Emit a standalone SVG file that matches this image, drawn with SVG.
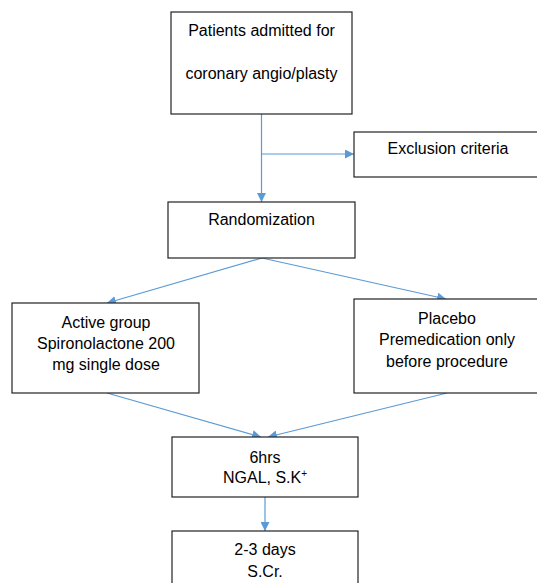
<svg xmlns="http://www.w3.org/2000/svg" width="537" height="583" viewBox="0 0 537 583">
<style>
.box{fill:#fff;stroke:#222;stroke-width:1.2}
.t{font-family:"Liberation Sans",Arial,sans-serif;font-size:16px;fill:#000;text-anchor:middle}
.c{stroke:#5B9BD5;stroke-width:1.2;fill:none}
</style>
<defs>
<marker id="ah" viewBox="0 0 10 10" refX="10" refY="5" markerWidth="9" markerHeight="9" markerUnits="userSpaceOnUse" orient="auto">
<path d="M0,0 L10,5 L0,10 z" fill="#5B9BD5"/>
</marker>
</defs>
<rect width="537" height="583" fill="#fff"/>
<g id="connectors">
<line class="c" x1="261.5" y1="114" x2="261.5" y2="202" marker-end="url(#ah)"/>
<line class="c" x1="261.5" y1="154" x2="354" y2="154" marker-end="url(#ah)"/>
<line class="c" x1="262" y1="258" x2="107" y2="303" marker-end="url(#ah)"/>
<line class="c" x1="262" y1="258" x2="446" y2="299" marker-end="url(#ah)"/>
<line class="c" x1="107" y1="393" x2="261" y2="437" marker-end="url(#ah)"/>
<line class="c" x1="447" y1="393" x2="268" y2="437" marker-end="url(#ah)"/>
<line class="c" x1="265" y1="497" x2="265" y2="531" marker-end="url(#ah)"/>
</g>
<g id="patients">
<rect class="box" x="171" y="12" width="181" height="102"/>
<text class="t" x="261.5" y="36">Patients admitted for</text>
<text class="t" x="261.5" y="79">coronary angio/plasty</text>
</g>
<g id="exclusion">
<rect class="box" x="354" y="132" width="190" height="45"/>
<text class="t" x="448" y="154">Exclusion criteria</text>
</g>
<g id="randomization">
<rect class="box" x="168" y="202" width="187" height="56"/>
<text class="t" x="261.5" y="225">Randomization</text>
</g>
<g id="active">
<rect class="box" x="12" y="303" width="187" height="90"/>
<text class="t" x="106" y="328">Active group</text>
<text class="t" x="106" y="349">Spironolactone 200</text>
<text class="t" x="106" y="370">mg single dose</text>
</g>
<g id="placebo">
<rect class="box" x="354" y="299" width="190" height="94"/>
<text class="t" x="447" y="324">Placebo</text>
<text class="t" x="447" y="345">Premedication only</text>
<text class="t" x="447" y="367">before procedure</text>
</g>
<g id="sixhrs">
<rect class="box" x="172" y="437" width="186" height="60"/>
<text class="t" x="265" y="463">6hrs</text>
<text class="t" x="265" y="483">NGAL, S.K<tspan font-size="10" dy="-6">+</tspan></text>
</g>
<g id="days">
<rect class="box" x="172" y="531" width="186" height="60"/>
<text class="t" x="265" y="555">2-3 days</text>
<text class="t" x="265" y="577">S.Cr.</text>
</g>
</svg>
